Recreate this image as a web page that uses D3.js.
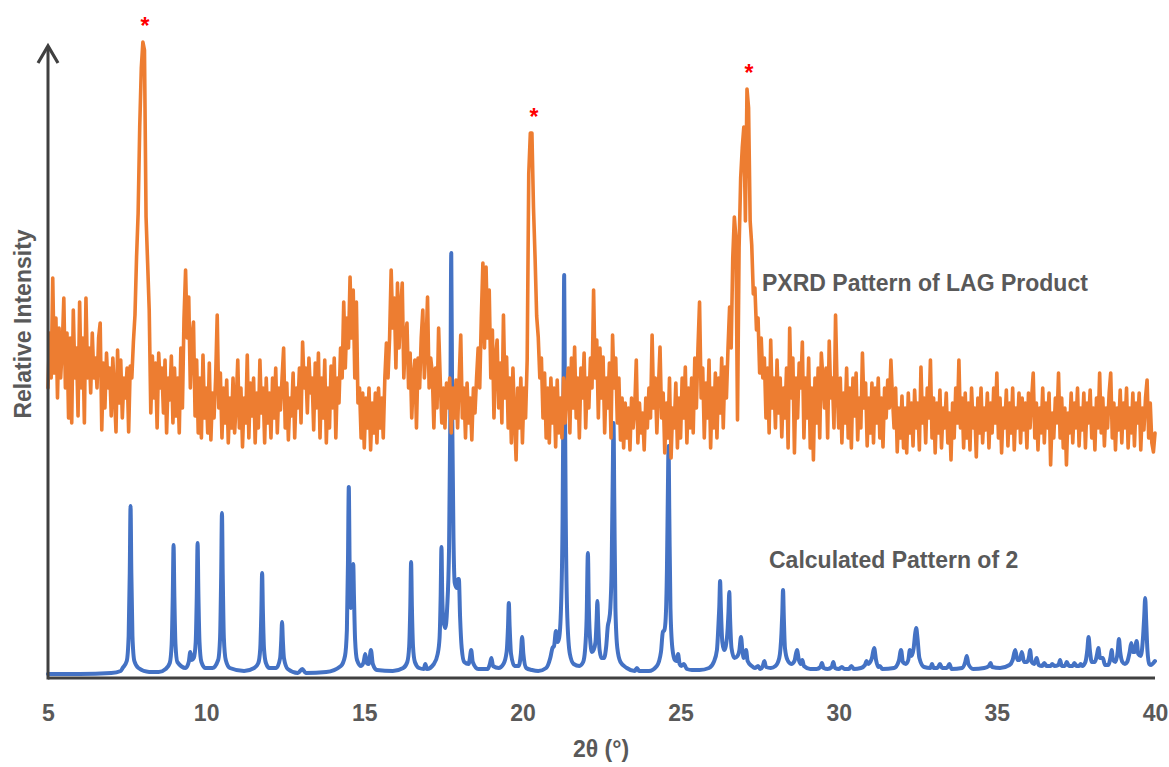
<!DOCTYPE html>
<html>
<head>
<meta charset="utf-8">
<script src="https://cdn.jsdelivr.net/npm/d3@7"></script>
<style>
  body { margin: 0; background: #fff; }
  svg { display: block; }
  text { font-family: "Liberation Sans", Arial, sans-serif; font-weight: bold; }
</style>
</head>
<body>
<svg id="chart" width="1169" height="767"></svg>
<script>
// ---- data ----------------------------------------------------------------
const xTicks = [5, 10, 15, 20, 25, 30, 35, 40];
const xDomain = [5, 40];

// measured PXRD pattern of the LAG product, sampled every 0.05° from 5°
const xrdStart = 5;
const xrdStep = 0.05;
const xrdIntensity = [
  290,345,300,400,305,360,280,350,300,330,380,290,345,260,340,255,368,300,330,262, // 5
  376,290,340,255,380,300,330,285,345,300,320,290,340,355,248,315,270,325,290,310, // 6
  262,320,285,246,328,275,318,260,300,280,310,246,312,300,336,363,421,465,551,610, // 7
  636,628,461,415,368,265,322,280,315,250,325,290,310,265,318,245,300,278,322,255, // 8
  310,262,300,245,330,270,360,408,340,381,290,340,356,262,318,245,300,240,323,260, // 9
  290,245,315,238,285,260,300,363,270,305,240,290,255,298,235,280,250,300,245,275, // 10
  318,250,290,231,280,255,323,240,295,262,300,235,285,250,318,265,290,235,300,255, // 11
  285,240,300,260,310,245,290,268,300,330,250,295,238,280,262,305,240,290,270,310, // 12
  255,336,290,310,265,320,285,300,248,315,270,325,240,300,260,318,235,290,250,312, // 13
  270,320,240,300,275,330,300,376,310,360,330,401,340,388,300,376,275,290,240,285, // 14
  230,280,250,290,228,275,245,285,235,290,250,280,240,300,335,300,340,408,350,380, // 15
  310,395,330,370,395,300,340,355,290,325,260,300,318,250,320,290,340,368,300,330, // 16
  381,290,320,305,250,310,270,350,300,255,290,250,295,270,300,245,290,260,298,250, // 17
  300,343,260,290,240,295,255,280,238,290,265,300,330,290,360,415,330,411,340,388, // 18
  300,348,260,320,338,270,315,255,363,280,321,250,300,235,310,260,218,290,250,300, // 19
  235,290,260,318,504,545,545,470,420,362,341,300,320,260,305,240,290,235,300,255, // 20
  290,231,298,245,280,240,300,255,290,310,245,320,270,331,260,300,240,310,280,325, // 21
  250,300,270,320,290,388,300,338,260,330,280,321,245,300,270,315,240,343,290,320, // 22
  255,300,238,280,230,275,240,270,228,280,250,270,318,235,275,245,265,228,280,250, // 23
  290,260,343,270,300,245,290,331,260,285,225,275,240,300,220,270,250,295,230,280, // 24
  240,300,260,311,235,290,250,300,245,320,270,330,376,280,310,240,295,260,318,230, // 25
  290,250,305,240,300,265,320,250,311,280,330,371,330,420,461,440,258,430,500,530, // 26
  551,457,589,570,457,433,384,390,348,360,305,340,300,320,260,310,245,338,270,300, // 27
  250,318,265,300,241,290,260,310,230,350,280,320,225,300,260,315,290,336,240,300, // 28
  260,320,230,290,218,300,255,310,240,325,300,270,310,240,337,280,300,250,363,290, // 29
  250,300,235,285,255,310,240,290,230,300,262,305,238,280,250,325,270,295,232,280, // 30
  245,295,235,290,255,300,240,280,231,290,260,298,270,318,280,250,290,226,270,240, // 31
  282,230,270,225,285,245,275,232,288,250,275,228,311,255,280,235,290,260,318,240, // 32
  280,225,275,245,288,230,270,250,285,235,265,218,275,240,290,255,318,250,280,230, // 33
  285,240,275,228,290,250,270,221,280,245,290,235,270,248,285,230,275,245,290,255, // 34
  305,240,280,225,270,250,288,232,275,245,290,228,270,250,285,235,280,248,275,230, // 35
  285,250,280,305,240,275,228,270,245,290,235,275,250,285,213,265,240,280,255,305, // 36
  240,280,230,270,213,265,245,285,235,275,250,290,232,270,248,285,230,275,255,288, // 37
  240,270,228,280,250,305,245,280,232,270,250,285,305,240,275,228,270,248,288,235, // 38
  275,250,290,230,270,245,285,232,275,255,285,228,270,248,280,298,240,275,235,226, // 39
  245                                                                              // 40
];

// calculated pattern of 2: [2θ, intensity]
const calcPoints = [
  [5.00,4],[6.0,4],[7.0,5],[7.3,7],
  [7.36,10],[7.49,17],[7.55,42],[7.585,105],[7.61,172],[7.635,105],[7.67,42],[7.73,17],[7.86,10],
  [8.2,6],[8.5,6],
  [8.72,9],[8.85,15],[8.91,34],[8.945,82],[8.97,133],[8.995,82],[9.03,34],[9.09,16],
  [9.35,10],[9.45,16],[9.5,26],[9.55,18],
  [9.61,20],[9.67,36],[9.705,84],[9.73,135],[9.755,84],[9.79,36],[9.85,16],[9.98,10],
  [10.2,10],
  [10.38,18],[10.44,40],[10.475,102],[10.5,165],[10.525,102],[10.56,40],[10.62,18],[10.75,10],
  [11.2,7],
  [11.52,10],[11.65,15],[11.71,29],[11.745,66],[11.77,105],[11.795,66],[11.83,29],[11.89,15],[12.0,10],
  [12.22,10],[12.34,20],[12.375,38],[12.4,56],[12.425,38],[12.46,20],[12.58,9],
  [12.9,5],[13.04,9],[13.15,5],[13.8,6],
  [14.26,12],[14.39,22],[14.45,48],[14.485,118],[14.51,191],[14.535,118],[14.57,70],
  [14.60,75],[14.625,100],[14.65,114],[14.675,80],[14.71,38],[14.77,18],[14.9,12],
  [14.98,16],[15.03,24],[15.08,15],[15.14,14],[15.21,28],[15.27,14],[15.4,8],
  [15.9,7],
  [16.23,10],[16.36,16],[16.42,32],[16.455,72],[16.48,116],[16.505,72],[16.54,32],[16.6,16],[16.73,10],
  [16.88,9],[16.93,14],[16.98,9],
  [17.2,14],[17.32,24],[17.38,40],[17.415,82],[17.44,131],[17.465,82],[17.5,58],[17.56,50],
  [17.62,70],[17.68,130],[17.72,260],[17.75,425],[17.78,260],[17.82,140],
  [17.86,95],[17.92,90],[17.96,99],[17.99,99],[18.03,60],[18.08,30],[18.16,16],[18.3,14],
  [18.33,18],[18.38,28],[18.43,16],[18.6,9],
  [18.9,9],[18.97,14],[19.02,20],[19.07,12],[19.25,10],
  [19.4,14],[19.5,26],[19.545,52],[19.57,75],[19.595,52],[19.64,24],[19.75,12],
  [19.88,12],[19.95,24],[19.99,41],[20.03,24],[20.12,10],
  [20.3,8],[20.5,7],[20.75,10],
  [20.88,20],[20.95,30],[21.0,32],[21.06,47],[21.11,36],[21.16,40],[21.22,70],[21.27,160],
  [21.3,300],[21.32,403],[21.34,300],[21.37,160],[21.42,60],[21.5,24],[21.62,14],[21.8,12],
  [21.92,16],[21.98,28],[22.03,60],[22.07,125],[22.1,70],[22.15,35],[22.2,26],[22.25,28],
  [22.31,36],[22.345,58],[22.37,77],[22.395,55],[22.44,28],[22.5,20],[22.58,20],
  [22.65,32],[22.7,52],[22.74,58],[22.78,70],[22.82,110],[22.855,200],[22.88,255],[22.905,175],
  [22.94,70],[23.0,30],[23.1,16],[23.3,10],
  [23.55,7],[23.62,10],[23.69,7],[24.0,7],
  [24.25,12],[24.38,26],[24.44,46],[24.49,48],[24.53,60],[24.57,110],[24.6,190],[24.62,232],
  [24.645,160],[24.68,70],[24.74,30],[24.82,18],
  [24.87,17],[24.92,24],[24.97,14],[25.02,12],[25.1,14],[25.2,9],[25.36,8],[25.6,8],
  [25.9,10],[26.05,16],[26.15,28],[26.2,55],[26.225,72],[26.25,97],[26.275,70],[26.32,36],
  [26.38,28],[26.43,32],
  [26.49,50],[26.515,66],[26.54,86],[26.565,60],[26.61,30],[26.7,20],[26.8,22],
  [26.86,28],[26.91,41],[26.96,26],[27.0,20],[27.07,28],[27.12,17],[27.25,12],
  [27.35,10],[27.45,12],[27.52,9],[27.6,12],[27.65,17],[27.7,11],[27.85,10],
  [28.0,12],[28.12,20],[28.19,45],[28.215,64],[28.24,88],[28.265,60],[28.3,30],[28.38,18],[28.5,14],
  [28.6,17],[28.68,28],[28.74,18],[28.8,14],[28.85,18],[28.9,12],[29.1,9],
  [29.3,9],[29.42,11],[29.47,15],[29.52,10],[29.65,9],[29.78,11],[29.83,16],[29.88,10],[30.0,9],
  [30.1,11],[30.18,9],[30.32,9],[30.4,12],[30.48,9],[30.7,10],[30.83,13],[30.88,17],[30.93,14],
  [31.05,20],[31.12,30],[31.18,18],[31.25,11],[31.3,12],[31.38,9],
  [31.75,10],[31.9,17],[31.97,28],[32.03,16],[32.12,14],[32.2,18],[32.25,28],[32.3,22],
  [32.37,30],[32.42,45],[32.45,50],[32.49,40],[32.55,20],[32.7,11],
  [32.9,10],[32.95,14],[33.0,10],[33.12,10],[33.2,14],[33.27,10],[33.42,10],[33.5,14],[33.57,9],
  [33.9,10],[34.0,16],[34.05,22],[34.1,14],[34.25,9],
  [34.6,10],[34.75,12],[34.8,15],[34.85,11],[35.1,10],
  [35.4,13],[35.5,18],[35.58,28],[35.65,18],[35.72,18],[35.79,26],[35.86,16],[35.95,16],
  [36.02,22],[36.05,28],[36.1,16],[36.18,14],[36.26,20],[36.32,13],[36.43,12],[36.5,15],
  [36.57,12],[36.7,12],[36.75,14],[36.82,12],[36.95,13],[37.0,18],[37.05,12],[37.15,12],
  [37.21,16],[37.28,12],[37.4,12],[37.45,15],[37.52,12],[37.6,12],[37.65,14],[37.7,12],
  [37.8,16],[37.86,28],[37.9,41],[37.94,28],[38.0,16],[38.1,16],[38.17,24],[38.21,30],
  [38.26,20],[38.35,20],[38.42,13],[38.52,13],[38.6,22],[38.63,28],[38.67,18],[38.75,16],
  [38.82,26],[38.86,39],[38.9,26],[38.97,16],[39.05,14],[39.12,16],[39.2,26],[39.25,35],
  [39.3,26],[39.35,26],[39.42,37],[39.47,24],[39.55,22],[39.62,40],[39.66,62],[39.69,80],
  [39.72,58],[39.76,28],[39.82,14],[39.88,13],[39.95,15],[40.0,17]
];

// reflections of the product flagged with an asterisk
const starredPeaks = [8.0, 20.3, 27.1];

const seriesLabels = ["PXRD Pattern of LAG Product", "Calculated Pattern of 2"];
const xTitle = "2θ (°)";
const yTitle = "Relative Intensity";

// ---- drawing -------------------------------------------------------------
const svg = d3.select("#chart");
const axisColor = "#404040";
const textColor = "#595959";
const orange = "#ED7D31";
const blue = "#4472C4";

const x = d3.scaleLinear().domain(xDomain).range([48, 1155]);
const y = d3.scaleLinear().domain([0, 640]).range([678, 38]);

const xrdData = xrdIntensity.map((v, i) => [xrdStart + i * xrdStep, v]);

// calculated pattern
svg.append("path")
  .datum(calcPoints)
  .attr("fill", "none")
  .attr("stroke", blue)
  .attr("stroke-width", 4)
  .attr("stroke-linejoin", "round")
  .attr("stroke-linecap", "round")
  .attr("d", d3.line().curve(d3.curveMonotoneX).x(d => x(d[0])).y(d => y(d[1])));

// measured pattern
svg.append("path")
  .datum(xrdData)
  .attr("fill", "none")
  .attr("stroke", orange)
  .attr("stroke-width", 3.6)
  .attr("stroke-linejoin", "round")
  .attr("stroke-linecap", "round")
  .attr("d", d3.line().x(d => x(d[0])).y(d => y(d[1])));

// asterisks above the flagged reflections
starredPeaks.forEach(p => {
  const near = xrdData.filter(d => Math.abs(d[0] - p) < 0.12);
  const top = near.reduce((a, b) => (b[1] > a[1] ? b : a));
  svg.append("text")
    .attr("x", x(p) + 2)
    .attr("y", y(top[1]) - 8)
    .attr("text-anchor", "middle")
    .attr("font-size", 23)
    .attr("fill", "#FF0000")
    .text("*");
});

// x axis
const xAxis = d3.axisBottom(x).tickValues(xTicks).tickSize(0).tickPadding(0).tickFormat(d3.format("d"));
const gx = svg.append("g").attr("transform", "translate(0,678)").call(xAxis);
gx.select(".domain").attr("stroke", axisColor).attr("stroke-width", 3).attr("d", `M${x(5)},0H${x(40)}`);
gx.selectAll(".tick text")
  .attr("y", 0).attr("dy", null)
  .attr("transform", "translate(0,43)")
  .attr("font-size", 23)
  .attr("font-family", "'Liberation Sans', Arial, sans-serif")
  .attr("font-weight", "bold")
  .attr("fill", textColor);

// y axis with arrow head
const yTop = 46;
svg.append("line")
  .attr("x1", x(5)).attr("x2", x(5))
  .attr("y1", 679.5).attr("y2", yTop)
  .attr("stroke", axisColor).attr("stroke-width", 3);
svg.append("path")
  .attr("d", `M${x(5) - 10},${yTop + 17}L${x(5)},${yTop}L${x(5) + 10},${yTop + 17}`)
  .attr("fill", "none").attr("stroke", axisColor).attr("stroke-width", 3.2)
  .attr("stroke-linejoin", "miter");

// axis titles
svg.append("text")
  .attr("x", 601).attr("y", 757)
  .attr("text-anchor", "middle")
  .attr("font-size", 23).attr("fill", textColor)
  .text(xTitle);
svg.append("text")
  .attr("transform", "translate(31,324) rotate(-90)")
  .attr("text-anchor", "middle")
  .attr("font-size", 23).attr("fill", textColor)
  .text(yTitle);

// series labels
svg.append("text")
  .attr("x", 762).attr("y", 291)
  .attr("font-size", 23).attr("fill", textColor)
  .text(seriesLabels[0]);
svg.append("text")
  .attr("x", 769).attr("y", 568)
  .attr("font-size", 23).attr("fill", textColor)
  .text(seriesLabels[1]);
</script>
</body>
</html>
